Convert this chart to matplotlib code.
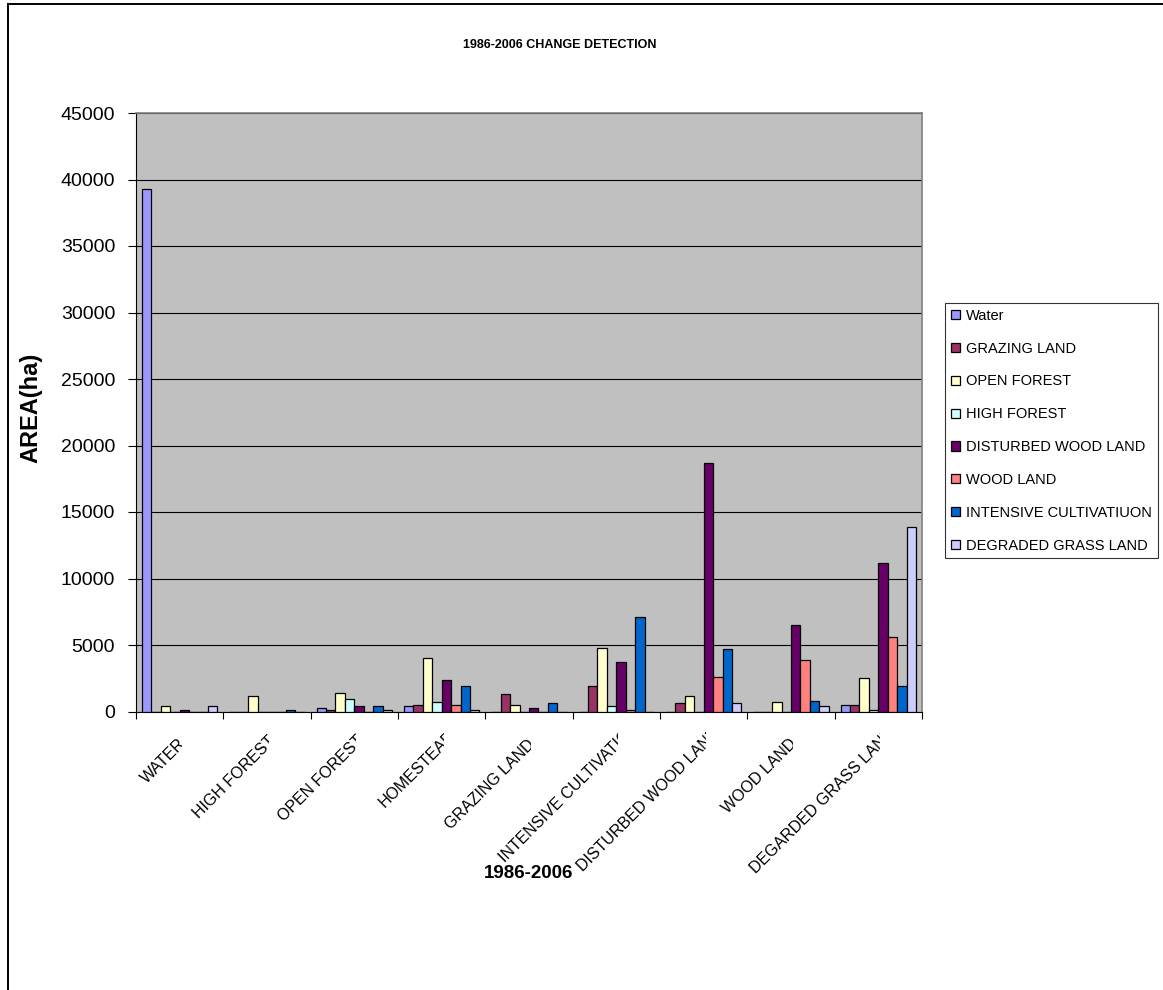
import matplotlib
matplotlib.use("Agg")
import matplotlib.pyplot as plt
import numpy as np
from matplotlib.lines import Line2D
from matplotlib.transforms import Bbox, TransformedBbox, blended_transform_factory, offset_copy

plt.rcParams['font.family'] = ['Liberation Sans', 'DejaVu Sans']

# categories on the x axis (1986 class)
categories = ["WATER", "HIGH FOREST", "OPEN FOREST", "HOMESTEAD", "GRAZING LAND",
              "INTENSIVE CULTIVATION", "DISTURBED WOOD LAND", "WOOD LAND",
              "DEGARDED GRASS LAND"]

# series (2006 class), values in ha per category
water = [39300, 0, 260, 410, 0, 0, 0, 0, 510]
grazing_land = [0, 0, 110, 510, 1290, 1915, 640, 0, 510]
open_forest = [410, 1165, 1410, 4020, 510, 4795, 1165, 740, 2495]
high_forest = [0, 0, 920, 740, 0, 410, 0, 0, 150]
disturbed_wood_land = [135, 0, 390, 2345, 260, 3740, 18700, 6500, 11140]
wood_land = [0, 0, 0, 510, 0, 120, 2615, 3890, 5575]
intensive_cultivation = [0, 120, 410, 1940, 615, 7125, 4675, 765, 1915]
degraded_grass_land = [410, 0, 120, 120, 0, 0, 615, 410, 13890]

series_names = ["Water", "GRAZING LAND", "OPEN FOREST", "HIGH FOREST",
                "DISTURBED WOOD LAND", "WOOD LAND", "INTENSIVE CULTIVATIUON",
                "DEGRADED GRASS LAND"]
series_values = [water, grazing_land, open_forest, high_forest,
                 disturbed_wood_land, wood_land, intensive_cultivation,
                 degraded_grass_land]
colors = ["#9999FF", "#993366", "#FFFFCC", "#CCFFFF",
          "#660066", "#FF8080", "#0066CC", "#CCCCFF"]

# how far (px, along the slant) each label runs past its clip line, as in Excel
label_overhang = [1, 4, 5, 9, 1, 18, 12, 1, 12]

W, H = 1163, 990
fig = plt.figure(figsize=(W / 100, H / 100), dpi=100)
fig.patch.set_facecolor("white")

# plot area in pixels: left 136, right 922, top 113, bottom 711.5
ax = fig.add_axes([136 / W, 1 - 711.5 / H, (922 - 136) / W, (711.5 - 113) / H])
ax.set_facecolor("#C0C0C0")

n = len(series_names)
bw = 0.108
x = np.arange(len(categories))
for j, (name, vals, col) in enumerate(zip(series_names, series_values, colors)):
    ax.bar(x + (j - (n - 1) / 2) * bw, vals, width=bw, color=col,
           edgecolor="black", linewidth=0.9, label=name, zorder=3)

ax.set_xlim(-0.5, len(categories) - 0.5)
ax.set_ylim(0, 45000)
ax.set_yticks(np.arange(0, 45001, 5000))
ax.tick_params(axis="y", labelsize=14, direction="out", length=6, width=0.8, pad=9)
ax.set_xticks(np.arange(-0.5, len(categories), 1.0))
ax.set_xticklabels([])
ax.tick_params(axis="x", direction="out", length=5, width=0.8)
ax.yaxis.grid(True, color="black", linewidth=0.8, zorder=1)
ax.set_axisbelow(True)
for s in ["top", "right"]:
    ax.spines[s].set_color("#808080")
    ax.spines[s].set_linewidth(1.2)
for s in ["left", "bottom"]:
    ax.spines[s].set_color("black")
    ax.spines[s].set_linewidth(0.8)

# rotated category labels, clipped at the category centre like the original
clip_tr = offset_copy(blended_transform_factory(ax.transData, fig.transFigure),
                      fig=fig, x=2, y=0, units="dots")
for i, cat in enumerate(categories):
    s = label_overhang[i]
    lab_tr = offset_copy(ax.get_xaxis_transform(), fig=fig, x=-3 + s, y=-(26 - s),
                         units="dots")
    t = fig.text(i, 0, cat, transform=lab_tr, rotation=45, rotation_mode="anchor",
                 ha="right", va="top", fontsize=11.5)
    t.set_clip_on(True)
    t.set_clip_box(TransformedBbox(Bbox([[-10, 0], [i, 1]]), clip_tr))

fig.text(560 / W, 1 - 45 / H, "1986-2006 CHANGE DETECTION", ha="center", va="center",
         fontsize=9, fontweight="bold")
fig.text(529 / W, 1 - 873 / H, "1986-2006", ha="center", va="center",
         fontsize=13.5, fontweight="bold")
fig.text(31 / W, 1 - 408 / H, "AREA(ha)", ha="center", va="center", rotation=90,
         fontsize=17, fontweight="bold")

leg = ax.legend(loc="upper left", bbox_to_anchor=(945 / W, 1 - 303 / H),
                bbox_transform=fig.transFigure, borderaxespad=0, fontsize=10.5,
                frameon=True, fancybox=False, shadow=False, handlelength=0.6,
                handleheight=0.6, handletextpad=0.45, labelspacing=1.29,
                borderpad=0.4)
leg.get_frame().set_edgecolor("black")
leg.get_frame().set_linewidth(0.8)

# outer chart border (only left and top edges are inside the picture)
fig.add_artist(Line2D([8 / W, 8 / W], [0, 1 - 4 / H], transform=fig.transFigure,
                      color="black", linewidth=1.4))
fig.add_artist(Line2D([8 / W, 1], [1 - 4 / H, 1 - 4 / H], transform=fig.transFigure,
                      color="black", linewidth=1.4))

fig.savefig("out.png", dpi=100)
